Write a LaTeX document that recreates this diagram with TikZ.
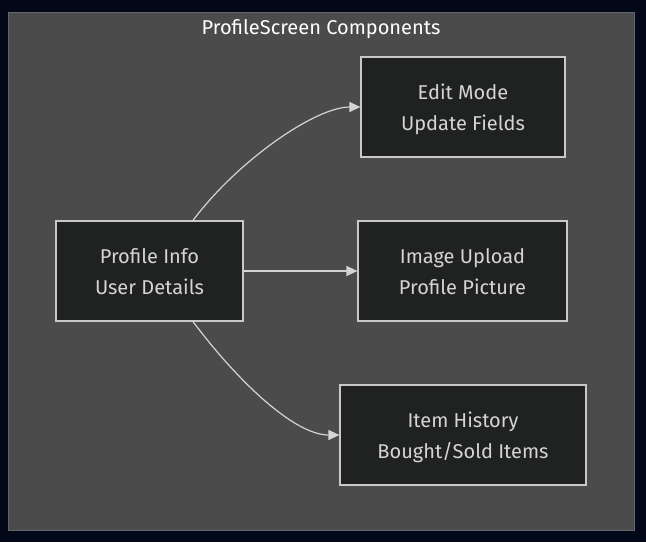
\documentclass[tikz,border=0pt]{standalone}
\usepackage{fontspec}
\setmainfont{Fira Sans}
\usetikzlibrary{arrows.meta}
\definecolor{pagebg}{RGB}{2,8,23}
\definecolor{groupfill}{RGB}{74,75,74}
\definecolor{groupline}{RGB}{100,102,110}
\definecolor{boxfill}{RGB}{32,34,33}
\definecolor{boxline}{RGB}{200,200,200}
\definecolor{boxtext}{RGB}{212,212,212}
\definecolor{edgecol}{RGB}{212,212,212}
% one line of box text with a fixed height and depth
\newcommand{\linestrut}{\rule[-7.3pt]{0pt}{31pt}}
\newcommand{\twolines}[2]{\linestrut#1\\\linestrut#2}
\tikzset{
  compbox/.style={draw=boxline, line width=1.2pt, fill=boxfill, text=boxtext,
    minimum height=100pt, align=center, inner sep=0pt,
    font=\fontsize{20}{31}\selectfont},
  link/.style={draw=edgecol, line width=1.2pt,
    -{Triangle[length=11pt,width=10pt]}},
}
\begin{document}
\begin{tikzpicture}[x=1pt,y=-1pt]
  \fill[pagebg] (0,0) rectangle (646,542);
  \useasboundingbox (0,0) rectangle (646,542);
  % group frame
  \draw[groupline, fill=groupfill, line width=1.2pt] (8.5,12.5) rectangle (634.5,530.5);
  \node[text=white, font=\fontsize{20}{24}\selectfont] (title) at (321,29.5) {ProfileScreen Components};
  % components
  \node[compbox, minimum width=187pt] (info) at (149.5,271) {\twolines{Profile Info}{User Details}};
  \node[compbox, minimum width=204pt] (edit) at (463,107) {\twolines{Edit Mode}{Update Fields}};
  \node[compbox, minimum width=209pt] (upload) at (462.5,271) {\twolines{Image Upload}{Profile Picture}};
  \node[compbox, minimum width=246pt] (hist) at (463,435) {\twolines{Item History}{Bought/Sold Items}};
  % connectors
  \draw[link] ([xshift=43.5pt]info.north) .. controls +(45,-60) and +(-45,0) .. (edit.west);
  \draw[link] (info.east) -- (upload.west);
  \draw[link] ([xshift=43.5pt]info.south) .. controls +(45,60) and +(-45,0) .. (hist.west);
\end{tikzpicture}
\end{document}
